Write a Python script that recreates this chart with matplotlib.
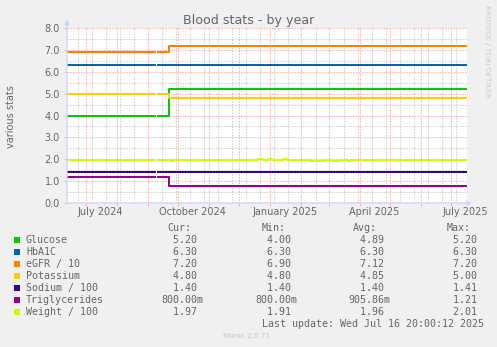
import matplotlib
matplotlib.use("Agg")
import matplotlib.pyplot as plt
import numpy as np
import pandas as pd
from matplotlib.patches import Rectangle

W, H = 497, 347
nan = np.nan

# ---------------- data ----------------
series_names = ["Glucose", "HbA1C", "eGFR / 10", "Potassium",
                "Sodium / 100", "Triglycerides", "Weight / 100"]
series_colors = ["#00CC00", "#0066B3", "#FF8000", "#FFCC00",
                 "#330099", "#990099", "#CCFF00"]

# change points shared by the six step-like series
step_dates = ["2024-06-12 08:00", "2024-09-09 00:00", "2024-09-10 12:00",
              "2024-09-22 12:00", "2025-07-16 20:00"]
glucose = [4.00, nan, 4.00, 5.20, 5.20]
hba1c = [6.30, nan, 6.30, 6.30, 6.30]
egfr = [6.90, nan, 6.90, 7.20, 7.20]
potassium = [5.00, nan, 5.00, 4.80, 4.80]
sodium = [1.40, nan, 1.40, 1.40, 1.40]
triglycerides = [1.17, nan, 1.17, 0.80, 0.80]

weight_dates = ["2024-06-12 08:00", "2024-09-09 00:00", "2024-09-10 12:00",
                "2024-09-24 00:00", "2024-09-26 00:00", "2024-12-20 00:00",
                "2024-12-25 00:00", "2024-12-30 00:00", "2025-01-03 00:00",
                "2025-01-14 00:00", "2025-01-18 00:00", "2025-02-10 00:00",
                "2025-02-20 00:00", "2025-02-25 00:00", "2025-03-04 00:00",
                "2025-03-12 00:00", "2025-03-20 00:00", "2025-03-24 00:00",
                "2025-07-16 20:00"]
weight = [1.96, nan, 1.96, 1.91, 1.96, 2.00, 1.96, 2.00, 1.96, 2.01, 1.96,
          1.93, 1.94, 1.96, 1.93, 1.96, 1.92, 1.97, 1.97]

cur_vals = [5.20, 6.30, 7.20, 4.80, 1.40, 0.80, 1.97]
min_vals = [4.00, 6.30, 6.90, 4.80, 1.40, 0.80, 1.91]
avg_vals = [4.89, 6.30, 7.12, 4.85, 1.40, 0.90586, 1.96]
max_vals = [5.20, 6.30, 7.20, 5.00, 1.41, 1.21, 2.01]

y_ticks = [0.0, 1.0, 2.0, 3.0, 4.0, 5.0, 6.0, 7.0, 8.0]
x_label_dates = ["2024-07-16", "2024-10-16", "2025-01-16", "2025-04-16", "2025-07-16"]
x_label_texts = ["July 2024", "October 2024", "January 2025", "April 2025", "July 2025"]

x_start, x_end = "2024-06-12 08:00", "2025-07-17 08:00"

# ---------------- figure ----------------
FONT = "#666666"
plt.rcParams["font.family"] = ["DejaVu Sans"]
fig = plt.figure(figsize=(W / 100, H / 100), dpi=100, facecolor="#F0F0F0")


def fx(x):
    return x / W


def fy(y):
    return 1 - y / H


ax = fig.add_axes([fx(67), fy(203), 400 / W, 175 / H])
ax.set_facecolor("white")
for s in ax.spines.values():
    s.set_visible(False)

t0, t1 = pd.Timestamp(x_start), pd.Timestamp(x_end)
ax.set_xlim(t0, t1)
ax.set_ylim(0, 8.0)

MAJ = "#FFA8A8"
MIN = "#CCCCCC"
dots = (0, (1.4, 1.4))

month_starts = pd.date_range("2024-07-01", t1, freq="MS")
# grid: minor every 14 days, major at month starts; y minor 0.5 major 1
for d in pd.date_range("2024-06-23", t1, freq="14D"):
    if np.min(np.abs((month_starts - d).days)) >= 2:
        ax.axvline(d, color=MIN, lw=0.72, ls=dots, zorder=1)
for v in np.arange(0.5, 8.0, 1.0):
    ax.axhline(v, color=MIN, lw=0.72, ls=dots, zorder=1)
for d in month_starts:
    ax.axvline(d, color=MAJ, lw=0.72, ls=dots, zorder=2)
for v in y_ticks[1:]:
    ax.axhline(v, color=MAJ, lw=0.72, ls=dots, zorder=2)

# series
step_x = pd.to_datetime(step_dates)
for vals, c in zip([glucose, hba1c, egfr, potassium, sodium, triglycerides],
                   series_colors[:6]):
    ax.plot(step_x, vals, color=c, lw=1.45, drawstyle="steps-post",
            zorder=5, solid_capstyle="butt")
ax.plot(pd.to_datetime(weight_dates), weight, color=series_colors[6], lw=1.45,
        drawstyle="steps-post", zorder=5, solid_capstyle="butt")

# ticks
ax.set_xticks(month_starts)
ax.set_xticklabels([])
ax.tick_params(axis="x", length=2.5, color=MAJ, width=0.7)
ax.set_yticks(y_ticks)
ax.set_yticklabels([f"{v:.1f}" for v in y_ticks], fontsize=7, color=FONT)
ax.tick_params(axis="y", length=2.5, color=MIN, width=0.7, pad=2.5)

for d, t in zip(x_label_dates, x_label_texts):
    ax.text(pd.Timestamp(d), -(214.5 - 203) / 175, t,
            transform=ax.get_xaxis_transform(),
            ha="center", va="baseline", fontsize=7, color=FONT)

# axis arrows
ARROW = "#CFD6F8"
ax.annotate("", xy=(0, (203 - 19) / 175), xytext=(0, 0), xycoords="axes fraction",
            arrowprops=dict(arrowstyle="-|>", color=ARROW, lw=1.0, mutation_scale=7,
                            shrinkA=0, shrinkB=0), annotation_clip=False, zorder=6)
ax.annotate("", xy=((472 - 67) / 400, 0), xytext=(0, 0), xycoords="axes fraction",
            arrowprops=dict(arrowstyle="-|>", color=ARROW, lw=1.0, mutation_scale=7,
                            shrinkA=0, shrinkB=0), annotation_clip=False, zorder=6)

# titles
fig.text(fx(248.5), fy(24), "Blood stats - by year", ha="center", va="baseline",
         fontsize=9.1, color=FONT)
fig.text(fx(11.5), fy(117), "various stats", ha="center", va="center",
         rotation=90, fontsize=7, color=FONT)
fig.text(fx(487.5), fy(5), "RRDTOOL / TOBI OETIKER", ha="center", va="top",
         rotation=270, fontsize=5.2, color="#CCCCCC")

# legend
MONO = "DejaVu Sans Mono"
LF = 7.2


def fmt(v):
    if v < 1:
        return f"{v * 1000:6.2f}m"
    return f"{v:6.2f} "


fig.text(fx(167), fy(231), "Cur:", family=MONO, fontsize=LF, color=FONT, va="baseline")
fig.text(fx(262), fy(231), "Min:", family=MONO, fontsize=LF, color=FONT, va="baseline")
fig.text(fx(353), fy(231), "Avg:", family=MONO, fontsize=LF, color=FONT, va="baseline")
fig.text(fx(447), fy(231), "Max:", family=MONO, fontsize=LF, color=FONT, va="baseline")
for i, (name, c) in enumerate(zip(series_names, series_colors)):
    yb = 243 + 12 * i
    fig.patches.append(Rectangle((fx(14), fy(yb - 0.3)), 6 / W, 6 / H,
                                 transform=fig.transFigure, facecolor=c,
                                 edgecolor="none"))
    fig.text(fx(26), fy(yb), name, family=MONO, fontsize=LF, color=FONT, va="baseline")
    fig.text(fx(161), fy(yb), fmt(cur_vals[i]), family=MONO, fontsize=LF, color=FONT, va="baseline")
    fig.text(fx(255), fy(yb), fmt(min_vals[i]), family=MONO, fontsize=LF, color=FONT, va="baseline")
    fig.text(fx(348), fy(yb), fmt(avg_vals[i]), family=MONO, fontsize=LF, color=FONT, va="baseline")
    fig.text(fx(441), fy(yb), fmt(max_vals[i]), family=MONO, fontsize=LF, color=FONT, va="baseline")

fig.text(fx(262), fy(327), "Last update: Wed Jul 16 20:00:12 2025", family=MONO,
         fontsize=LF, color=FONT, va="baseline")
fig.text(fx(223), fy(338), "Munin 2.0.71", fontsize=5.2, color="#C8C8C8", va="baseline")

fig.savefig("out.png", dpi=100, facecolor=fig.get_facecolor())
